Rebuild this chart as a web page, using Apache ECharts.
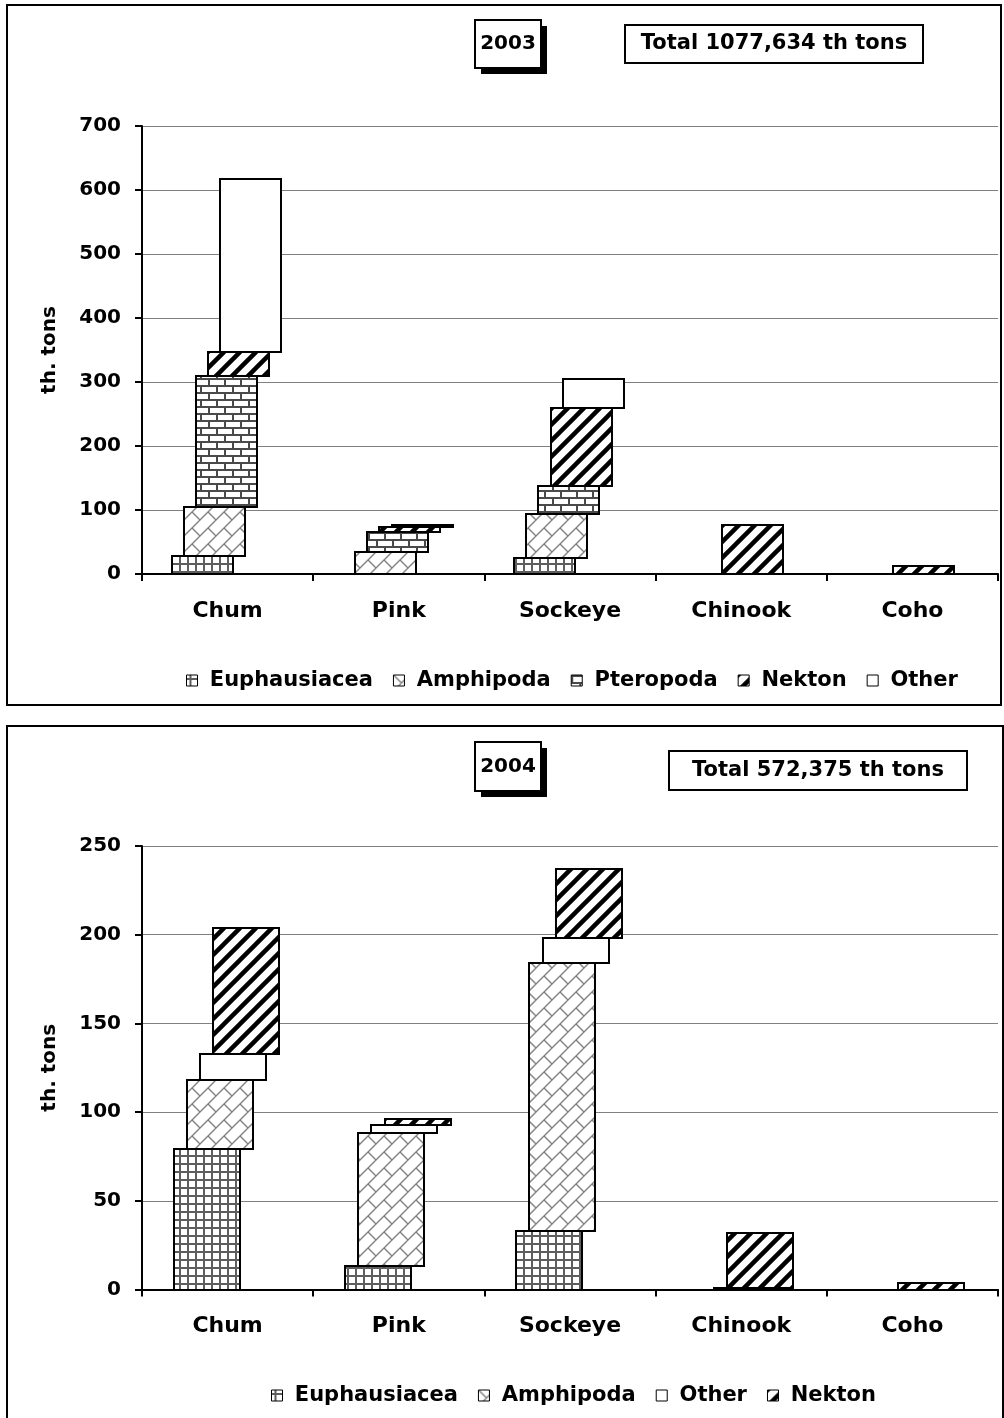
<!DOCTYPE html>
<html>
<head>
<meta charset="utf-8">
<script src="https://cdn.jsdelivr.net/npm/echarts@6/dist/echarts.min.js"></script>
<style>
html,body{margin:0;padding:0;background:#fff;}
#chart{width:1004px;height:1418px;}
</style>
</head>
<body>
<div id="chart"></div>
<script>
// ---------- data ----------
const categories = ['Chum', 'Pink', 'Sockeye', 'Chinook', 'Coho'];

// 2003 (stack order bottom -> top)
const groups2003 = ['Euphausiacea', 'Amphipoda', 'Pteropoda', 'Nekton', 'Other'];
const euphausiacea2003 = [28, 0, 25, 0, 0];
const amphipoda2003    = [76, 35, 69, 0, 0];
const pteropoda2003    = [205, 31, 44, 0, 0];
const nekton2003       = [38, 7, 122, 76, 13];
const other2003        = [270, 3, 44, 0, 0];
const yTicks2003 = { min: 0, max: 700, interval: 100 };
const year2003 = '2003';
const total2003 = 'Total 1077,634 th tons';

// 2004 (stack order bottom -> top)
const groups2004 = ['Euphausiacea', 'Amphipoda', 'Other', 'Nekton'];
const euphausiacea2004 = [79, 13, 33, 0, 0];
const amphipoda2004    = [39, 75, 151, 0, 0];
const other2004        = [15, 4.5, 14, 0.6, 0];
const nekton2004       = [71, 3.5, 39, 31, 3.5];
const yTicks2004 = { min: 0, max: 250, interval: 50 };
const year2004 = '2004';
const total2004 = 'Total 572,375 th tons';

const yName = 'th. tons';

// ---------- patterns ----------
function makeCanvas(w, h, draw) {
  const c = document.createElement('canvas');
  c.width = w; c.height = h;
  const ctx = c.getContext('2d');
  ctx.fillStyle = '#fff';
  ctx.fillRect(0, 0, w, h);
  draw(ctx);
  return c;
}
function line(ctx, x1, y1, x2, y2) { ctx.beginPath(); ctx.moveTo(x1, y1); ctx.lineTo(x2, y2); ctx.stroke(); }

const patterns = {
  Euphausiacea: { image: makeCanvas(8, 8, ctx => {
      ctx.fillStyle = '#5e5e5e';
      ctx.fillRect(0, 3, 8, 2);
      ctx.fillRect(3, 0, 2, 8);
    }), repeat: 'repeat' },
  Amphipoda: { image: makeCanvas(16, 16, ctx => {
      ctx.strokeStyle = '#858585'; ctx.lineWidth = 1.5;
      line(ctx, -4, 20, 20, -4);
      line(ctx, -4, 4, 4, -4);
      line(ctx, 12, 20, 20, 12);
      line(ctx, 0, 0, 8, 8);
      line(ctx, 16, 16, 17, 17);
    }), repeat: 'repeat' },
  Pteropoda: { image: makeCanvas(16, 14, ctx => {
      ctx.fillStyle = '#4a4a4a';
      ctx.fillRect(0, 0, 16, 2);
      ctx.fillRect(0, 7, 16, 2);
      ctx.fillRect(0, 2, 2, 5);
      ctx.fillRect(8, 9, 2, 5);
    }), repeat: 'repeat' },
  Nekton: { image: makeCanvas(16, 16, ctx => {
      ctx.strokeStyle = '#000'; ctx.lineWidth = 4.5;
      line(ctx, -4, 20, 20, -4);
      line(ctx, -4, 4, 4, -4);
      line(ctx, 12, 20, 20, 12);
    }), repeat: 'repeat' },
  Other: '#ffffff'
};

// ---------- helpers ----------
const FONT = 'DejaVu Sans';

function stackData(valuesList) {
  const base = categories.map(() => 0);
  return valuesList.map(vals => {
    const out = [];
    vals.forEach((v, i) => {
      const b = base[i];
      base[i] += v;
      if (v > 0) out.push([i, b, b + v]);
    });
    return out;
  });
}

function makeRender(idx, n, fill) {
  return function (params, api) {
    const cat = api.value(0), lo = api.value(1), hi = api.value(2);
    const band = api.size([1, 0])[0];
    const w = band / (2 + 0.2 * (n - 1));
    const step = w * 0.2;
    const center = api.coord([cat, 0])[0];
    const x0 = Math.round(center - (w + (n - 1) * step) / 2 + idx * step - 1);
    const x1 = Math.round(x0 + w);
    const yT = Math.round(api.coord([cat, hi])[1]);
    const yB = Math.round(api.coord([cat, lo])[1]);
    return {
      type: 'rect',
      shape: { x: x0, y: yT, width: x1 - x0, height: Math.max(yB - yT, 1) },
      style: { fill: fill, stroke: '#000', lineWidth: 2 }
    };
  };
}

function buildSeries(groups, valuesList, panel) {
  const stacked = stackData(valuesList);
  return groups.map((g, k) => ({
    type: 'custom',
    name: g,
    xAxisIndex: panel,
    yAxisIndex: panel,
    data: stacked[k],
    encode: { x: 0, y: [1, 2] },
    itemStyle: { color: patterns[g], borderColor: '#000', borderWidth: 1 },
    renderItem: makeRender(k, groups.length, patterns[g]),
    z: 3
  }));
}

function xAxis(panel) {
  return {
    gridIndex: panel, type: 'category', data: categories,
    axisLine: { lineStyle: { color: '#000', width: 2 } },
    axisTick: { show: true, length: 7, interval: 0, alignWithLabel: false, lineStyle: { color: '#000', width: 2 } },
    axisLabel: { interval: 0, margin: 26, fontFamily: FONT, fontWeight: 'bold', fontSize: 22, color: '#000' },
    splitLine: { show: false }
  };
}
function yAxis(panel, ticks) {
  return {
    gridIndex: panel, type: 'value', min: ticks.min, max: ticks.max, interval: ticks.interval,
    name: yName, nameLocation: 'middle', nameGap: 82,
    nameTextStyle: { fontFamily: FONT, fontWeight: 'bold', fontSize: 20, color: '#000' },
    axisLine: { show: true, lineStyle: { color: '#000', width: 2 } },
    axisTick: { show: true, length: 7, lineStyle: { color: '#000', width: 2 } },
    axisLabel: { margin: 21, fontFamily: FONT, fontWeight: 'bold', fontSize: 20, color: '#000' },
    splitLine: { show: true, lineStyle: { color: '#808080', width: 1 } }
  };
}
function legend(groups, left, top) {
  return {
    left: left, top: top, orient: 'horizontal',
    itemWidth: 11, itemHeight: 11, itemGap: 20,
    selectedMode: false,
    formatter: name => ' ' + name,
    textStyle: { fontFamily: FONT, fontWeight: 'bold', fontSize: 21, color: '#000' },
    data: groups.map(g => ({
      name: g, icon: 'rect',
      itemStyle: { color: patterns[g], borderColor: '#000', borderWidth: 1 }
    }))
  };
}
function boxes(frame, yearBox, totalBox, yearText, totalText) {
  return [
    { type: 'rect', shape: frame, style: { fill: 'none', stroke: '#000', lineWidth: 2 }, z: 0 },
    { type: 'rect', shape: { x: yearBox.x + 6, y: yearBox.y + 6, width: yearBox.width, height: yearBox.height }, style: { fill: '#000' }, z: 10 },
    { type: 'rect', shape: yearBox, style: { fill: '#fff', stroke: '#000', lineWidth: 2 }, z: 11 },
    { type: 'text', x: yearBox.x + yearBox.width / 2, y: yearBox.y + yearBox.height / 2,
      style: { text: yearText, fill: '#000', font: 'bold 20px "' + FONT + '"', textAlign: 'center', textVerticalAlign: 'middle' }, z: 12 },
    { type: 'rect', shape: totalBox, style: { fill: '#fff', stroke: '#000', lineWidth: 2 }, z: 11 },
    { type: 'text', x: totalBox.x + totalBox.width / 2, y: totalBox.y + totalBox.height / 2,
      style: { text: totalText, fill: '#000', font: 'bold 21px "' + FONT + '"', textAlign: 'center', textVerticalAlign: 'middle' }, z: 12 }
  ];
}

// ---------- chart ----------
const chart = echarts.init(document.getElementById('chart'), null, { renderer: 'canvas' });

const option = {
  backgroundColor: '#fff',
  animation: false,
  grid: [
    { left: 142, width: 856, top: 126, height: 448 },
    { left: 142, width: 856, top: 846, height: 443.5 }
  ],
  xAxis: [xAxis(0), xAxis(1)],
  yAxis: [yAxis(0, yTicks2003), yAxis(1, yTicks2004)],
  legend: [legend(groups2003, 181, 665), legend(groups2004, 266, 1380)],
  series: [].concat(
    buildSeries(groups2003, [euphausiacea2003, amphipoda2003, pteropoda2003, nekton2003, other2003], 0),
    buildSeries(groups2004, [euphausiacea2004, amphipoda2004, other2004, nekton2004], 1)
  ),
  graphic: [].concat(
    boxes({ x: 7, y: 5, width: 994, height: 700 },
          { x: 475, y: 20, width: 66, height: 48 },
          { x: 625, y: 25, width: 298, height: 38 }, year2003, total2003),
    boxes({ x: 7, y: 726, width: 996, height: 720 },
          { x: 475, y: 742, width: 66, height: 49 },
          { x: 669, y: 751, width: 298, height: 39 }, year2004, total2004)
  )
};
chart.setOption(option);
</script>
</body>
</html>
